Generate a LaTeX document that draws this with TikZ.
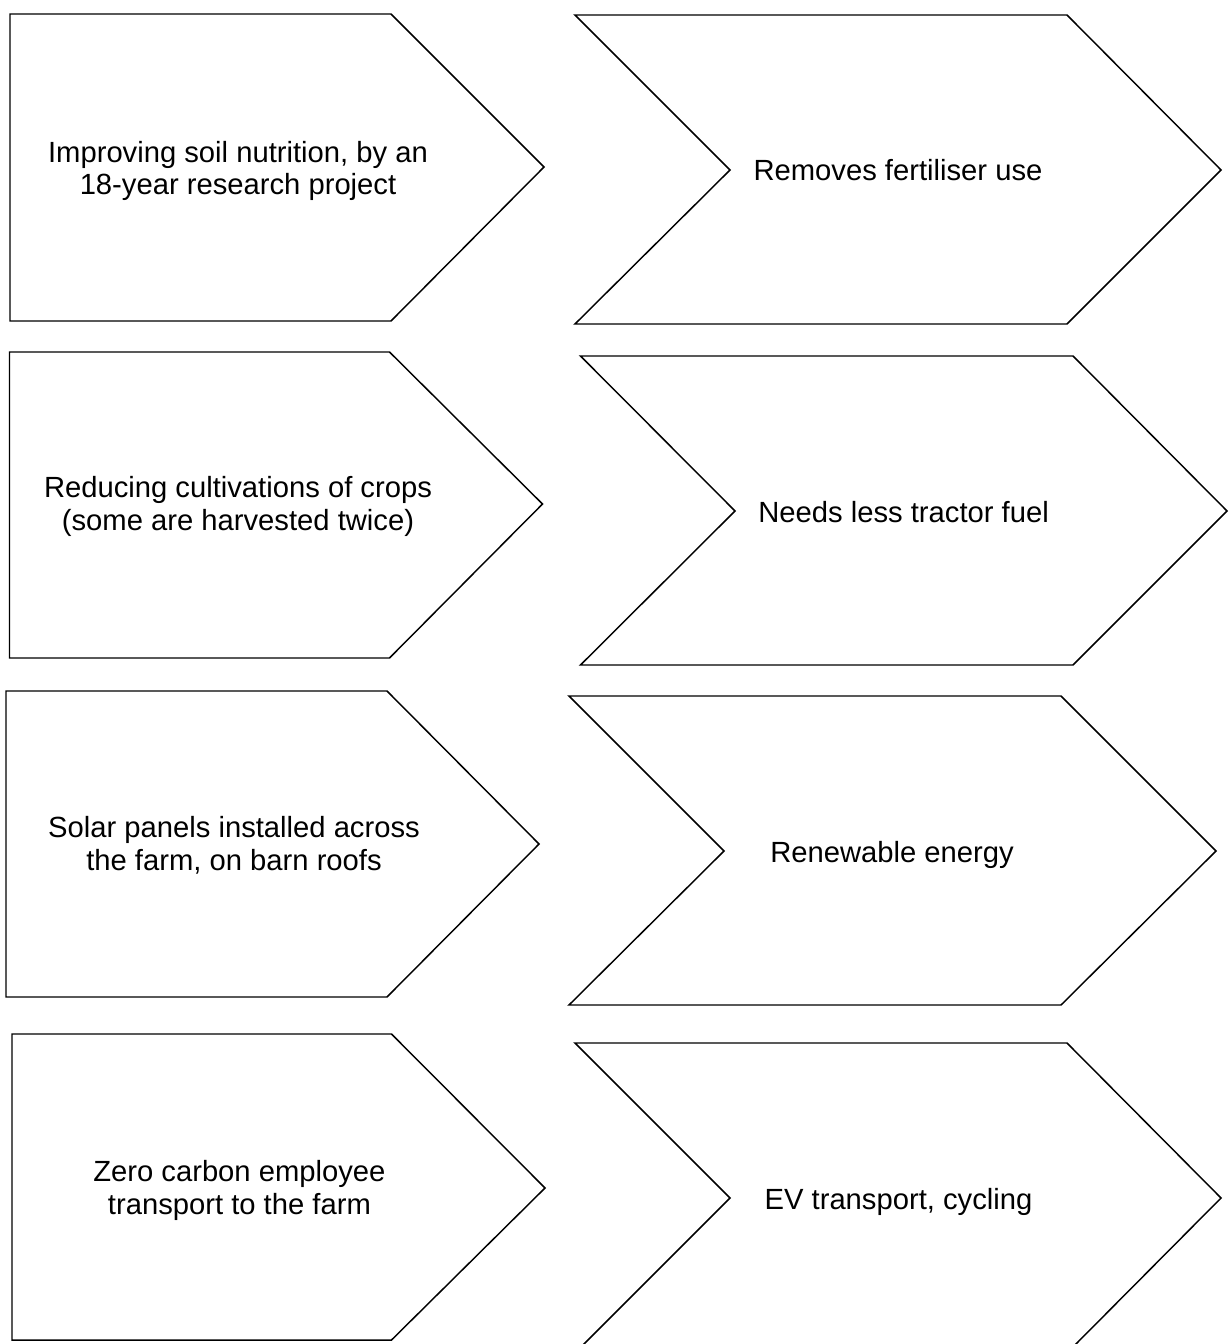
\documentclass[tikz,border=0pt]{standalone}
\usepackage{fontspec}
\setmainfont{Liberation Sans}
\begin{document}
\begin{tikzpicture}[x=0.75pt,y=-0.75pt,
  shp/.style={draw=black,line width=1.1pt,line join=miter,fill=white},
  lbl/.style={font=\fontsize{21.9pt}{24.2pt}\selectfont, align=center, anchor=base, inner sep=0pt}]
\useasboundingbox (0,0) rectangle (1230,1344);
\clip (0,0) rectangle (1230,1344);
% left pentagons
\draw[shp] (10,14)--(391,14)--(544,167)--(391,321)--(10,321)--cycle;
\draw[shp] (9.5,352)--(389.5,352)--(542.5,504)--(389.5,658)--(9.5,658)--cycle;
\draw[shp] (6,691)--(387,691)--(539,844)--(387,997)--(6,997)--cycle;
\draw[shp] (12,1034)--(391.5,1034)--(545,1188)--(391.5,1340)--(12,1340)--cycle;
% right chevrons
\draw[shp] (575,15)--(1067,15)--(1221,170)--(1067,324)--(575,324)--(730,170)--cycle;
\draw[shp] (580.5,356)--(1073,356)--(1227,511)--(1073,665)--(580.5,665)--(735,511)--cycle;
\draw[shp] (569,696)--(1061,696)--(1216,851)--(1061,1005)--(569,1005)--(724,851)--cycle;
\draw[shp] (575,1043)--(1067,1043)--(1221,1198)--(1067,1353)--(575,1353)--(730,1198)--cycle;
% labels (two-line labels: anchor at baseline of last line)
\node[lbl] (t1) at (238,195) {Improving soil nutrition, by an\\18-year research project};
\node[lbl] (o1) at (898,181) {Removes fertiliser use};
\node[lbl] (t2) at (238,530) {Reducing cultivations of crops\\(some are harvested twice)};
\node[lbl] (o2) at (903.6,522) {Needs less tractor fuel};
\node[lbl] (t3) at (234,870) {Solar panels installed across\\the farm, on barn roofs};
\node[lbl] (o3) at (892,862) {Renewable energy};
\node[lbl] (t4) at (239.4,1214) {Zero carbon employee\\transport to the farm};
\node[lbl] (o4) at (898.5,1209) {EV transport, cycling};
\end{tikzpicture}
\end{document}
